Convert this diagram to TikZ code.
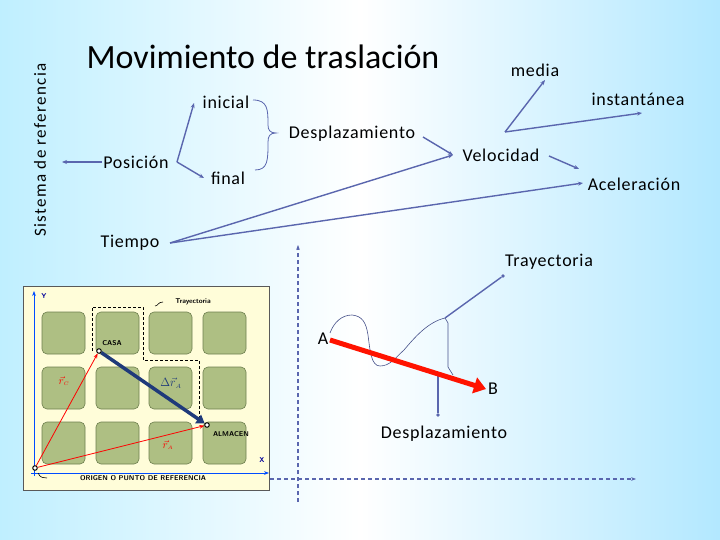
\documentclass[tikz,border=0pt]{standalone}
\usepackage{fontspec}
\setmainfont{Carlito}
\usetikzlibrary{arrows.meta}
\definecolor{lnk}{HTML}{5A66AE}
\definecolor{blk}{HTML}{6E7F4F}
\definecolor{blkf}{HTML}{AEBF83}
\definecolor{navy}{HTML}{1F3A7A}
\tikzset{
 lbl/.style={font=\fontsize{18}{20}\selectfont\addfontfeatures{LetterSpace=4}, inner sep=1pt},
 lk/.style={draw=lnk, line width=1.4pt, -{Stealth[length=5pt,width=4pt]}},
 pl/.style={draw=lnk, line width=1.4pt},
 blockbox/.style={draw=blk, fill=blkf, rounded corners=5pt, line width=0.6pt},
 sm/.style={font=\sffamily\bfseries\fontsize{7}{8}\selectfont, inner sep=1pt},
 dax/.style={draw=lnk, line width=1.2pt, dashed, dash pattern=on 4pt off 3pt},
}
\begin{document}
\begin{tikzpicture}[x=1pt,y=-1pt]
\useasboundingbox (0,0) rectangle (720,540);
\shade[left color=blue!25!cyan!25, right color=blue!30!cyan!30, middle color=white] (0,0) rectangle (720,540);
% title and labels
\node[font=\fontsize{34}{38}\selectfont] (title) at (263,57) {Movimiento de traslación};
\node[font=\fontsize{17}{19}\selectfont\addfontfeatures{LetterSpace=8}, inner sep=1pt, rotate=90] (sis) at (40,150) {Sistema de referencia};
\node[lbl] (media) at (535,70) {media};
\node[lbl] (inst) at (638,99) {instantánea};
\node[lbl] (ini) at (226,102) {inicial};
\node[lbl] (desp) at (352,134) {Desplazamiento};
\node[lbl] (vel) at (501,155) {Velocidad};
\node[lbl] (pos) at (136,162) {Posición};
\node[lbl] (fin) at (228,178) {final};
\node[lbl] (acel) at (634,184) {Aceleración};
\node[lbl] (tiem) at (130,243) {Tiempo};
\node[lbl] (tray) at (549,262) {Trayectoria};
\node[lbl] (desp2) at (444,434) {Desplazamiento};
% connectors
\coordinate (posR) at (177,162);
\coordinate (velL) at (453,155);
\coordinate (velR) at (505,132);
\coordinate (tiR) at (170,243);
\draw[lk] (pos.west) -- (62,162);
\draw[lk] (posR) -- (194,103);
\draw[lk] (posR) -- (204,178);
\draw[pl, line width=0.8pt] (253,100) .. controls (268,100) and (268,110) .. (268,125) .. controls (268,130) and (270,133) .. (276,133) .. controls (270,133) and (268,136) .. (268,142) .. controls (268,160) and (268,170) .. (255,170);
\draw[lk] (423,137) -- (velL);
\draw[lk] (tiR) -- (velL);
\draw[lk] (tiR) -- (583,183);
\draw[lk] (velR) -- (545,80);
\draw[lk] (velR) -- (642,113);
\draw[lk] (549,156) -- (579,169);
% dashed axes
\draw[dax, -{Stealth[length=5pt]}] (298,502) -- (298,245);
\draw[dax, -{Stealth[length=5pt]}] (270,479) -- (636,479);
% trajectory
\draw[lnk!80!black, line width=0.6pt] (330,333) .. controls (334,322) and (342,315) .. (352,315) .. controls (362,316) and (366,322) .. (368,335) .. controls (370,350) and (371,366) .. (380,366) .. controls (390,366) and (395,358) .. (404,350) .. controls (415,337) and (428,322) .. (445,318) -- (448,323) -- (448,367) -- (453,375);
\coordinate (tp) at (445,318);
\node[circle, fill=lnk, inner sep=1.3pt] (tdot) at (503,276) {};
\draw[pl] (tp) -- (tdot);
\coordinate (dp) at (438,373);
\node[circle, fill=lnk, inner sep=1.3pt] (ddot) at (438,415) {};
\draw[pl] (dp) -- (ddot);
\node[lbl] (A) at (323,339) {A};
\node[lbl] (B) at (493,389) {B};
\draw[red!85!orange, line width=5pt, -{Triangle[length=12pt,width=16pt]}] (330,340) -- (486,389);
% inset figure
\draw[fill=yellow!15, draw=gray!70!black, line width=0.8pt] (23,286) rectangle (269,490);
\foreach \x in {42,96,149,203} \foreach \y in {312,367,422} \draw[blockbox] (\x,\y) rectangle ++(43,42);
\draw[blue!70!cyan, line width=1pt, -{Stealth[length=5pt]}] (34,476) -- (34,291);
\draw[blue!70!cyan, line width=1pt, -{Stealth[length=5pt]}] (31,473) -- (269,473);
\node[sm, text=blue!60!black] (Y) at (44,296) {Y};
\node[sm, text=blue!60!black] (X) at (262,460) {X};
\draw[black, line width=1pt, dashed, dash pattern=on 3pt off 2pt] (92,351) -- (92,307) -- (143,307) -- (143,360) -- (199,360) -- (199,422);
\node[circle, draw, fill=white, line width=1pt, inner sep=1.6pt] (casa) at (99,351) {};
\node[circle, draw, fill=white, line width=1pt, inner sep=1.6pt] (alm) at (207,425) {};
\node[circle, draw, fill=white, line width=1pt, inner sep=1.6pt] (orig) at (35,468) {};
\draw[red, line width=0.8pt, -{Stealth[length=5pt]}] (orig) -- (casa);
\draw[red, line width=0.8pt, -{Stealth[length=5pt]}] (orig) -- (alm);
\draw[navy, line width=3.5pt, -{Triangle[length=8pt,width=10pt]}] (casa) -- (alm);
\node[sm] (casal) at (112,343) {CASA};
\node[sm] (alml) at (231,434) {ALMACEN};
\node[sm] (trl) at (193,302) {Trayectoria};
\draw[black, line width=0.6pt] (163,302) .. controls (158,302) and (158,306) .. (155,306);
\node[sm] (orl) at (143,478) {ORIGEN O PUNTO DE REFERENCIA};
\draw[black, line width=0.6pt] (38,473) .. controls (40,478) and (44,478) .. (47,478);
\node[text=red, font=\bfseries\fontsize{11}{12}\selectfont] (rc) at (64,381) {$\vec{r}_{\scriptscriptstyle C}$};
\node[text=navy, font=\bfseries\fontsize{12}{12}\selectfont] (dr) at (171,383) {$\Delta\vec{r}_{\scriptscriptstyle A}$};
\node[text=red, font=\bfseries\fontsize{11}{12}\selectfont] (ra) at (168,445) {$\vec{r}_{\scriptscriptstyle A}$};
\end{tikzpicture}
\end{document}
